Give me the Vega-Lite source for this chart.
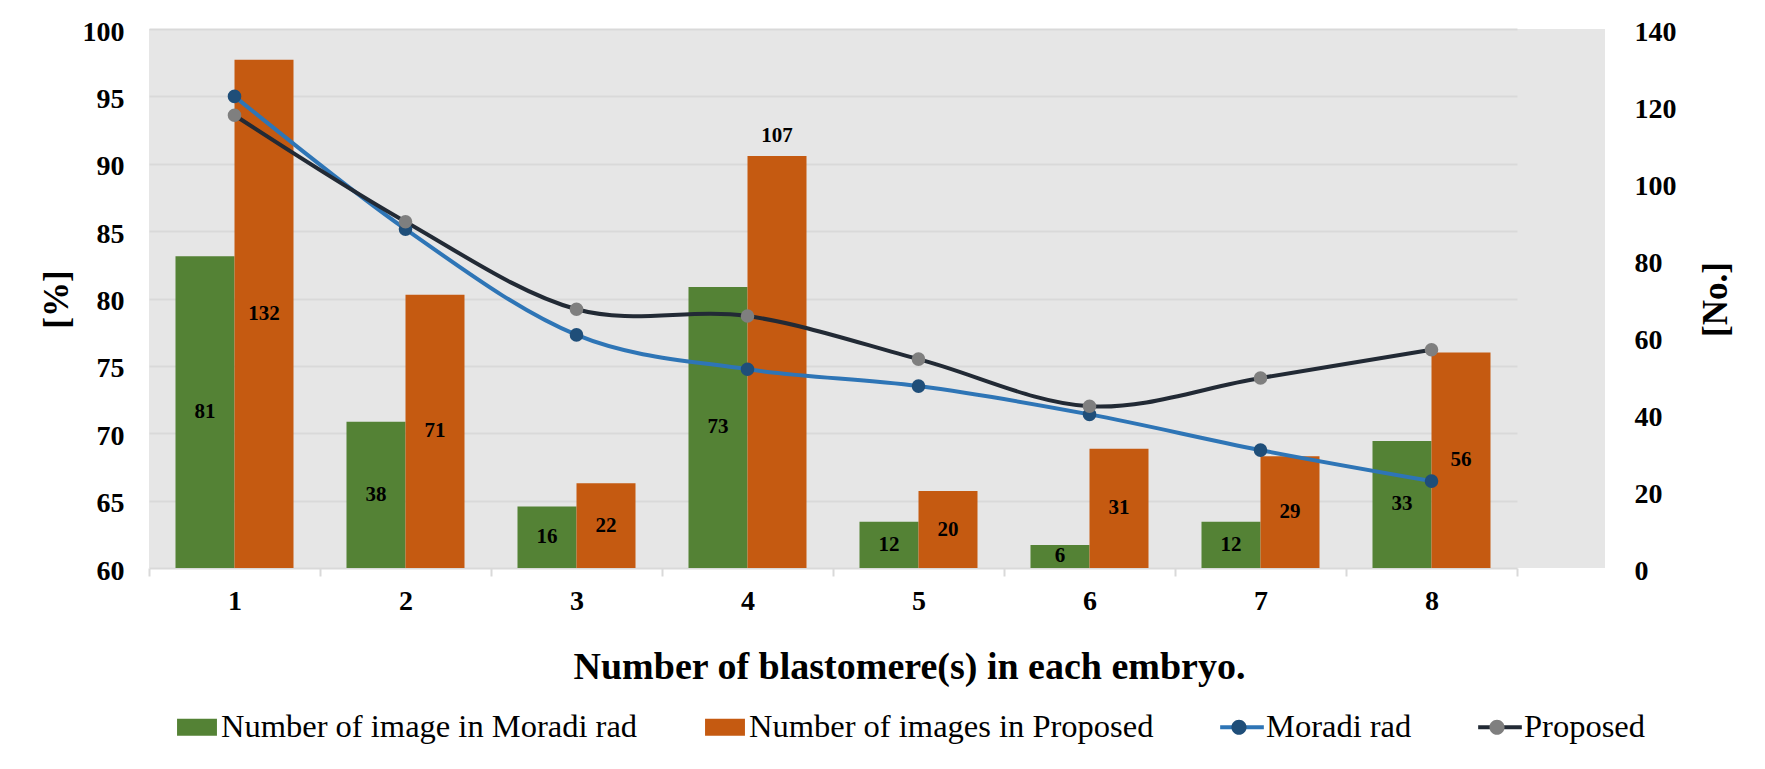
{
  "$schema": "https://vega.github.io/schema/vega-lite/v6.json",
  "width": 1456,
  "height": 539,
  "autosize": {"type": "none"},
  "padding": {"left": 149, "top": 29, "right": 160, "bottom": 201},
  "background": "white",
  "config": {
    "font": "Liberation Serif",
    "view": {"stroke": null, "fill": "#e6e6e6"},
    "axis": {
      "labelFont": "Liberation Serif",
      "labelFontSize": 28,
      "labelFontWeight": "bold",
      "labelColor": "#000000",
      "titleFont": "Liberation Serif",
      "titleFontWeight": "bold",
      "titleColor": "#000000",
      "domain": false,
      "grid": false
    }
  },
  "datasets": {
    "bars": [
      {"n": "1", "series": "Number of image in Moradi rad", "count": 81},
      {"n": "2", "series": "Number of image in Moradi rad", "count": 38},
      {"n": "3", "series": "Number of image in Moradi rad", "count": 16},
      {"n": "4", "series": "Number of image in Moradi rad", "count": 73},
      {"n": "5", "series": "Number of image in Moradi rad", "count": 12},
      {"n": "6", "series": "Number of image in Moradi rad", "count": 6},
      {"n": "7", "series": "Number of image in Moradi rad", "count": 12},
      {"n": "8", "series": "Number of image in Moradi rad", "count": 33},
      {"n": "1", "series": "Number of images in Proposed", "count": 132},
      {"n": "2", "series": "Number of images in Proposed", "count": 71},
      {"n": "3", "series": "Number of images in Proposed", "count": 22},
      {"n": "4", "series": "Number of images in Proposed", "count": 107},
      {"n": "5", "series": "Number of images in Proposed", "count": 20},
      {"n": "6", "series": "Number of images in Proposed", "count": 31},
      {"n": "7", "series": "Number of images in Proposed", "count": 29},
      {"n": "8", "series": "Number of images in Proposed", "count": 56}
    ],
    "lines": [
      {"n": "1", "series": "Moradi rad", "pct": 95.0},
      {"n": "2", "series": "Moradi rad", "pct": 85.15},
      {"n": "3", "series": "Moradi rad", "pct": 77.3},
      {"n": "4", "series": "Moradi rad", "pct": 74.75},
      {"n": "5", "series": "Moradi rad", "pct": 73.5},
      {"n": "6", "series": "Moradi rad", "pct": 71.4},
      {"n": "7", "series": "Moradi rad", "pct": 68.75},
      {"n": "8", "series": "Moradi rad", "pct": 66.45},
      {"n": "1", "series": "Proposed", "pct": 93.6},
      {"n": "2", "series": "Proposed", "pct": 85.7},
      {"n": "3", "series": "Proposed", "pct": 79.2},
      {"n": "4", "series": "Proposed", "pct": 78.7},
      {"n": "5", "series": "Proposed", "pct": 75.5},
      {"n": "6", "series": "Proposed", "pct": 72.0},
      {"n": "7", "series": "Proposed", "pct": 74.1},
      {"n": "8", "series": "Proposed", "pct": 76.2}
    ]
  },
  "resolve": {"scale": {"y": "independent"}, "axis": {"y": "independent"}},
  "layer": [
    {
      "data": {"name": "bars"},
      "mark": {"type": "bar"},
      "encoding": {
        "x": {
          "field": "n",
          "type": "ordinal",
          "scale": {"range": [0, 1368], "paddingInner": 0, "paddingOuter": 0},
          "axis": {
            "title": "Number of blastomere(s) in each embryo.",
            "labelAngle": 0,
            "ticks": true,
            "tickBand": "extent",
            "tickColor": "#d9d9d9",
            "tickWidth": 2,
            "tickSize": 8,
            "labelPadding": 25,
            "labelBaseline": "middle",
            "titleFontSize": 38,
            "titleX": 760,
            "titleY": 99,
            "titleBaseline": "middle",
            "titleAlign": "center"
          }
        },
        "xOffset": {
          "field": "series",
          "type": "nominal",
          "scale": {"domain": ["Number of image in Moradi rad", "Number of images in Proposed"], "paddingInner": 0, "paddingOuter": 0.449}
        },
        "y": {
          "field": "count",
          "type": "quantitative",
          "scale": {"domain": [0, 140], "nice": false},
          "axis": {
            "orient": "right",
            "title": "[No.]",
            "values": [0, 20, 40, 60, 80, 100, 120, 140],
            "ticks": false,
            "tickSize": 0,
            "labelPadding": 29,
            "labelOffset": 3,
            "titleFontSize": 35,
            "titleAngle": 270,
            "titleX": 110,
            "titleY": 270,
            "titleBaseline": "middle",
            "titleAlign": "center"
          }
        },
        "color": {
          "field": "series",
          "type": "nominal",
          "scale": {
            "domain": ["Number of image in Moradi rad", "Number of images in Proposed", "Moradi rad", "Proposed"],
            "range": ["#548235", "#c55a11", "#2e75b6", "#222a35"]
          },
          "legend": {
            "orient": "none",
            "legendX": 27,
            "legendY": 677,
            "direction": "horizontal",
            "title": null,
            "padding": 0,
            "symbolSize": 1764,
            "symbolStrokeWidth": 0,
            "labelFont": "Liberation Serif",
            "labelFontSize": 32.5,
            "labelColor": "#000000",
            "labelLimit": 1000,
            "labelOffset": 3,
            "columnPadding": 66,
            "encode": {
              "symbols": {
                "update": {
                  "shape": {"signal": "datum.value == 'Moradi rad' || datum.value == 'Proposed' ? 'M-1.04,-0.1H1.04V0.1H-1.04Z' : 'M-0.95,-0.4H0.95V0.4H-0.95Z'"},
                  "fill": {"scale": "color", "field": "value"},
                  "stroke": {"value": "transparent"},
                  "strokeWidth": {"value": 0},
                  "opacity": {"value": 1}
                }
              }
            }
          }
        }
      }
    },
    {
      "data": {"name": "bars"},
      "transform": [{"filter": "datum.count != 107"}],
      "mark": {"type": "text", "font": "Liberation Serif", "fontSize": 21, "fontWeight": "bold", "color": "#000000", "baseline": "middle"},
      "encoding": {
        "x": {"field": "n", "type": "ordinal"},
        "xOffset": {"field": "series", "type": "nominal"},
        "y": {"field": "count", "type": "quantitative", "scale": {"domain": [0, 280], "nice": false}, "axis": null},
        "text": {"field": "count", "type": "quantitative"}
      }
    },
    {
      "data": {"name": "bars"},
      "transform": [{"filter": "datum.count == 107"}],
      "mark": {"type": "text", "font": "Liberation Serif", "fontSize": 21, "fontWeight": "bold", "color": "#000000", "baseline": "middle", "dy": -20},
      "encoding": {
        "x": {"field": "n", "type": "ordinal"},
        "xOffset": {"field": "series", "type": "nominal"},
        "y": {"field": "count", "type": "quantitative", "scale": {"domain": [0, 140], "nice": false}, "axis": null},
        "text": {"field": "count", "type": "quantitative"}
      }
    },
    {
      "data": {"name": "lines"},
      "mark": {"type": "line", "interpolate": "cardinal", "strokeWidth": 4},
      "encoding": {
        "x": {"field": "n", "type": "ordinal"},
        "y": {
          "field": "pct",
          "type": "quantitative",
          "scale": {"domain": [60, 100], "nice": false, "zero": false},
          "axis": {
            "orient": "left",
            "title": "[%]",
            "values": [60, 65, 70, 75, 80, 85, 90, 95, 100],
            "grid": true,
            "gridColor": "#d9d9d9",
            "gridWidth": 2,
            "ticks": false,
            "tickSize": 0,
            "labelPadding": 25,
            "labelOffset": 3,
            "titleFontSize": 35,
            "titleAngle": 270,
            "titleX": -93,
            "titleY": 270,
            "titleBaseline": "middle",
            "titleAlign": "center"
          }
        },
        "color": {"field": "series", "type": "nominal"}
      }
    },
    {
      "data": {"name": "lines"},
      "mark": {"type": "circle", "size": 185, "opacity": 1},
      "encoding": {
        "x": {"field": "n", "type": "ordinal"},
        "y": {"field": "pct", "type": "quantitative", "scale": {"domain": [60, 100], "nice": false, "zero": false}, "axis": null},
        "fill": {
          "field": "series",
          "type": "nominal",
          "scale": {"domain": ["Moradi rad", "Proposed"], "range": ["#1f4e79", "#7f7f7f"]},
          "legend": {
            "orient": "none",
            "legendX": 1069,
            "legendY": 677,
            "direction": "horizontal",
            "title": null,
            "padding": 0,
            "symbolSize": 1764,
            "symbolStrokeWidth": 0,
            "symbolType": "M-1.04,0H1.04M0.36,0A0.36,0.36,0,1,1,-0.36,0A0.36,0.36,0,1,1,0.36,0Z",
            "labelFont": "Liberation Serif",
            "labelFontSize": 32.5,
            "labelOpacity": 0,
            "labelLimit": 1000,
            "labelOffset": 3,
            "columnPadding": 66,
            "encode": {
              "symbols": {
                "update": {
                  "fill": {"scale": "fill", "field": "value"},
                  "stroke": {"value": "transparent"},
                  "strokeWidth": {"value": 0},
                  "opacity": {"value": 1}
                }
              }
            }
          }
        }
      }
    }
  ]
}
